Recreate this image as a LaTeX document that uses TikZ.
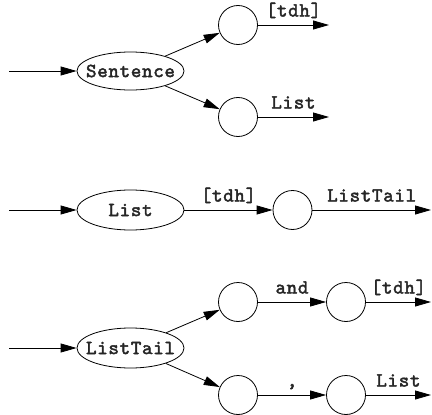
\documentclass[tikz,border=0pt]{standalone}
\usepackage{fontspec}
\usetikzlibrary{shapes.geometric,arrows.meta}
\newfontfamily\lblfam{lmmono10-regular.otf}[FakeBold=2.2, LetterSpace=3.5]
\newcommand{\lblfont}{\lblfam\fontsize{20}{22}\selectfont}
\newcommand{\zw}[1]{\makebox[0pt]{#1}}
\begin{document}
\begin{tikzpicture}[x=1pt,y=-1pt,
  every node/.style={font=\lblfont, text=black!85},
  nt/.style={draw, ellipse, line width=0.8pt, minimum width=107pt, minimum height=38pt, inner sep=0pt},
  st/.style={draw, circle, line width=0.8pt, minimum size=39pt, inner sep=0pt},
  arr/.style={line width=0.8pt, -{Triangle[length=16pt,width=9pt]}},
  lab/.style={anchor=base, yshift=8.5pt, inner sep=0pt}]
\useasboundingbox (0,0) rectangle (432,415);
% Sentence
\coordinate (s0) at (9,71);
\node[nt] (S) at (130.5,71) {\zw{Sentence}};
\node[st] (c1) at (238,25) {};
\node[st] (c2) at (238,117) {};
\coordinate (e1) at (329,25);
\coordinate (e2) at (329,117);
\draw[arr] (s0) -- (S);
\draw[arr] (S) -- (c1);
\draw[arr] (S) -- (c2);
\draw[arr] (c1) -- node[lab] {[tdh]} (e1);
\draw[arr] (c2) -- node[lab] {List} (e2);
% List
\coordinate (s1) at (9,210);
\node[nt, minimum height=40pt] (L) at (130.5,210) {\zw{List}};
\node[st] (c3) at (292.5,210) {};
\coordinate (e3) at (431,210);
\draw[arr] (s1) -- (L);
\draw[arr] (L) -- node[lab] {[tdh]} (c3);
\draw[arr] (c3) -- node[lab] {ListTail} (e3);
% ListTail
\coordinate (s2) at (9,348);
\node[nt, minimum height=40pt] (T) at (130.5,348) {\zw{ListTail}};
\node[st] (c4) at (238,302) {};
\node[st] (c5) at (346,302) {};
\node[st] (c6) at (238,395) {};
\node[st] (c7) at (346,395) {};
\coordinate (e4) at (431,302);
\coordinate (e5) at (431,395);
\draw[arr] (s2) -- (T);
\draw[arr] (T) -- (c4);
\draw[arr] (T) -- (c6);
\draw[arr] (c4) -- node[lab] {and} (c5);
\draw[arr] (c6) -- node[lab] {,} (c7);
\draw[arr] (c5) -- node[lab] {[tdh]} (e4);
\draw[arr] (c7) -- node[lab] {List} (e5);
\end{tikzpicture}
\end{document}
